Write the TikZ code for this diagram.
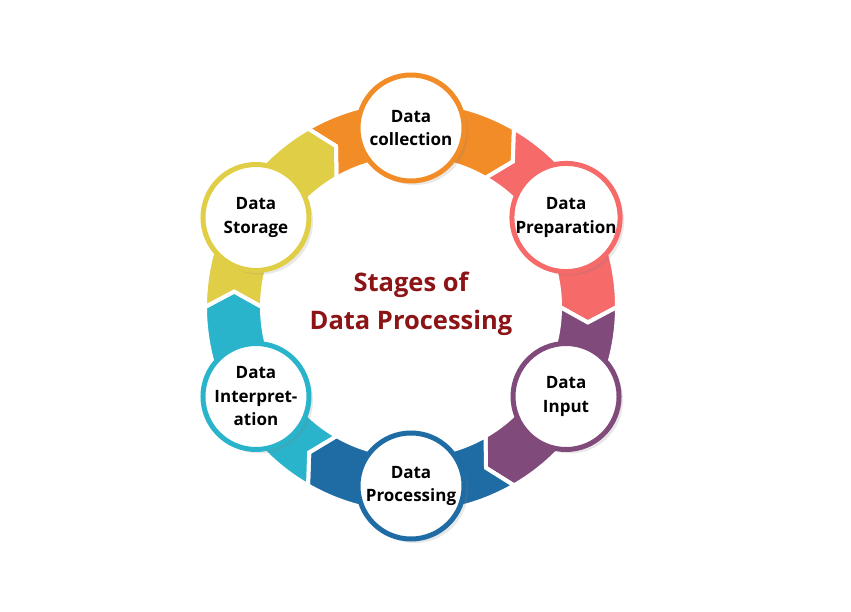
\documentclass[tikz,border=0pt]{standalone}
\usepackage{fontspec}
\setmainfont{Open Sans}
\usetikzlibrary{shadows}
\definecolor{cOrange}{RGB}{242,140,38}
\definecolor{cPink}{RGB}{246,106,106}
\definecolor{cPurple}{RGB}{128,74,122}
\definecolor{cBlue}{RGB}{31,108,165}
\definecolor{cCyan}{RGB}{42,180,203}
\definecolor{cYellow}{RGB}{224,206,70}
\definecolor{cTitle}{RGB}{140,20,22}
\newcommand\ringseg[2]{%
  \fill[#2, draw=white, line width=4pt, line join=miter]
    ({#1+30}:206pt) arc[start angle={#1+30}, end angle={#1-30}, radius=206pt]
    -- ({#1-35}:177.5pt) -- ({#1-30}:149pt)
    arc[start angle={#1-30}, end angle={#1+30}, radius=149pt]
    -- ({#1+25}:177.5pt) -- cycle;}
\tikzset{
  stage/.style={circle, minimum size=106pt, inner sep=0pt, line width=5pt, fill=white,
    draw=#1, align=center, font=\bfseries\fontsize{17}{23.5}\selectfont,
    drop shadow={opacity=0.18, shadow xshift=4pt, shadow yshift=-4pt}},
  titletext/.style={align=center, text=cTitle, font=\bfseries\fontsize{25.5}{38}\selectfont}
}
\begin{document}
\begin{tikzpicture}[x=1pt,y=1pt]
\path[use as bounding box, fill=white] (0,0) rectangle (851,-612);
\begin{scope}[shift={(411,-307)}]
  \ringseg{90}{cOrange}
  \ringseg{30}{cPink}
  \ringseg{-30}{cPurple}
  \ringseg{-90}{cBlue}
  \ringseg{-150}{cCyan}
  \ringseg{150}{cYellow}
  \node[stage=cOrange] (collect) at (90:179pt) {Data\\collection};
  \node[stage=cPink] (prep) at (30:179pt) {Data\\Preparation};
  \node[stage=cPurple] (input) at (-30:179pt) {Data\\Input};
  \node[stage=cBlue] (proc) at (-90:179pt) {Data\\Processing};
  \node[stage=cCyan] (interp) at (-150:179pt) {Data\\Interpret-\\ation};
  \node[stage=cYellow] (store) at (150:179pt) {Data\\Storage};
  \node[titletext] (title) at (0,3) {Stages of\\Data Processing};
\end{scope}
\end{tikzpicture}
\end{document}
